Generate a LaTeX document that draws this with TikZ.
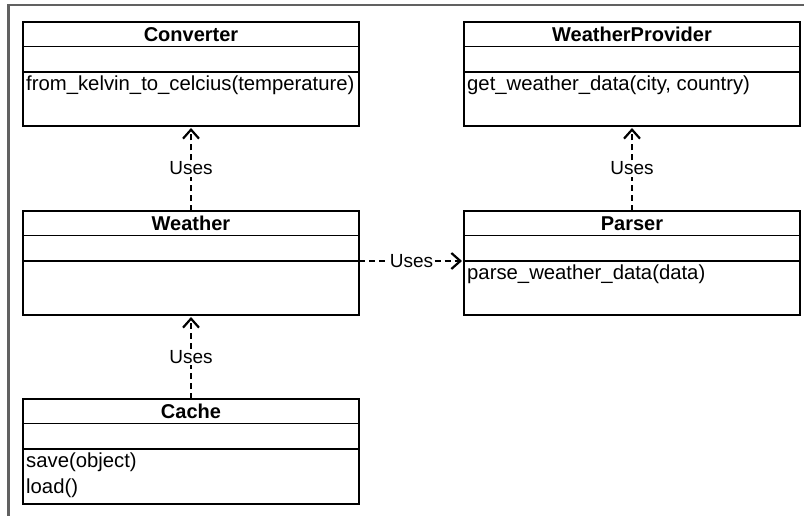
\documentclass[tikz,border=0pt]{standalone}
\usepackage{fontspec}
\setmainfont{Liberation Sans}
\usetikzlibrary{arrows.meta}
\tikzset{
  classbox/.style={draw, line width=1.4pt, minimum width=336pt, anchor=north west, inner sep=0pt, outer sep=0pt},
  divider/.style={line width=1.4pt},
  classtitle/.style={font=\fontsize{20}{22}\selectfont\bfseries, inner sep=0pt},
  classmethods/.style={font=\fontsize{20.3}{26}\selectfont, anchor=north west, align=left, inner sep=1pt},
  usesline/.style={dash pattern=on 6pt off 4pt, line width=1.5pt},
  uses/.style={usesline, shorten >=2pt,
    -{Straight Barb[length=9pt, width=16pt, line width=2.2pt]}},
  useslabel/.style={inner sep=1.5pt, outer sep=0pt, font=\fontsize{19}{21}\selectfont},
  frame/.style={draw=black!62, line width=2.5pt}
}
\newcommand\umlclass[6]{%
  \node[classbox, minimum height=#4] (#1) at (#2,#3) {};
  \draw[divider] ([yshift=-24.5pt]#1.north west) -- ([yshift=-24.5pt]#1.north east);
  \draw[divider] ([yshift=-50pt]#1.north west) -- ([yshift=-50pt]#1.north east);
  \node[classtitle] (#1-title) at ([yshift=-12.5pt]#1.north) {#5};
  \node[classmethods] (#1-methods) at ([xshift=2pt,yshift=-53pt]#1.north west) {#6};
}
\begin{document}
\begin{tikzpicture}[x=1pt,y=-1pt]
\useasboundingbox (0,0) rectangle (804,516);
\coordinate (fbl) at (8.5,516);
\coordinate (ftl) at (8.5,5);
\coordinate (ftr) at (804,5);
\draw[frame] (fbl) -- (ftl) -- (ftr);

\umlclass{converter}{23}{22}{104pt}{Converter}{from\_kelvin\_to\_celcius(temperature)}
\umlclass{provider}{464}{22}{104pt}{WeatherProvider}{get\_weather\_data(city, country)}
\umlclass{weather}{23}{211}{104pt}{Weather}{}
\umlclass{parser}{464}{211}{104pt}{Parser}{parse\_weather\_data(data)}
\umlclass{cache}{23}{399}{105pt}{Cache}{save(object)\\load()}

\path (weather.north) -- node[useslabel] (l1) {Uses} (converter.south);
\path (parser.north) -- node[useslabel] (l2) {Uses} (provider.south);
\path (cache.north) -- node[useslabel] (l3) {Uses} (weather.south);
\path ([yshift=-50pt]weather.north east) -- node[useslabel] (l4) {Uses} ([yshift=-50pt]parser.north west);

\draw[usesline] (weather.north) -- (l1.south);
\draw[uses] (l1.north) -- (converter.south);
\draw[usesline] (parser.north) -- (l2.south);
\draw[uses] (l2.north) -- (provider.south);
\draw[usesline] (cache.north) -- (l3.south);
\draw[uses] (l3.north) -- (weather.south);
\draw[usesline] ([yshift=-50pt]weather.north east) -- (l4.west);
\draw[uses] (l4.east) -- ([yshift=-50pt]parser.north west);
\end{tikzpicture}
\end{document}
